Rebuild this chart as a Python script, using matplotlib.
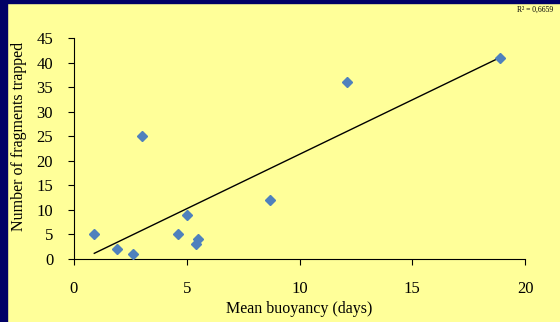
import matplotlib
matplotlib.use("Agg")
import matplotlib.pyplot as plt
import numpy as np
from matplotlib.patches import Rectangle

# mean buoyancy (days) vs number of fragments trapped
buoyancy = [0.9, 1.9, 2.6, 3.0, 4.6, 5.0, 5.4, 5.5, 8.7, 12.1, 18.9]
trapped = [5, 2, 1, 25, 5, 9, 3, 4, 12, 36, 41]
x_ticks = [0, 5, 10, 15, 20]
y_ticks = [0, 5, 10, 15, 20, 25, 30, 35, 40, 45]
r2_label = "R² = 0,6659"

plt.rcParams['font.family'] = ['Liberation Serif', 'DejaVu Serif']

fig = plt.figure(figsize=(5.6, 3.22), dpi=100)
fig.patch.set_facecolor('#FFFF99')
# navy frame on left and top
fig.patches.append(Rectangle((0, 0), 7 / 560, 1, transform=fig.transFigure,
                             color='#000066', zorder=0))
fig.patches.append(Rectangle((0, 1 - 3 / 322), 1, 3 / 322, transform=fig.transFigure,
                             color='#000066', zorder=0))

ax = fig.add_axes([74 / 560, 1 - 259 / 322, 451 / 560, 220.7 / 322])
ax.set_facecolor('#FFFF99')

ax.plot(buoyancy, trapped, linestyle='none', marker='D', markersize=5,
        color='#4F81BD', zorder=3)

# linear trend line
xs = np.array(buoyancy)
slope, intercept = np.polyfit(xs, trapped, 1)
xl = np.array([xs.min(), xs.max()])
ax.plot(xl, slope * xl + intercept, color='black', linewidth=1, zorder=2)

ax.set_xlim(0, 20)
ax.set_ylim(0, 45)
ax.set_xticks(x_ticks)
ax.set_yticks(y_ticks)
ax.tick_params(direction='out', length=4, width=0.8, labelsize=12,
               colors='black', pad=12)
ax.tick_params(axis='y', pad=11)
ax.spines['top'].set_visible(False)
ax.spines['right'].set_visible(False)
ax.spines['left'].set_color('black')
ax.spines['bottom'].set_color('black')

ax.set_xlabel("Mean buoyancy (days)", fontsize=11.5, labelpad=3)
ax.set_ylabel("Number of fragments trapped", fontsize=11.5)
ax.yaxis.set_label_coords(-0.104, 0.557)

fig.text(553 / 560, 1 - 10 / 322, r2_label, ha='right', va='center', fontsize=5.5)

fig.savefig("out.png", dpi=100, facecolor=fig.get_facecolor())
